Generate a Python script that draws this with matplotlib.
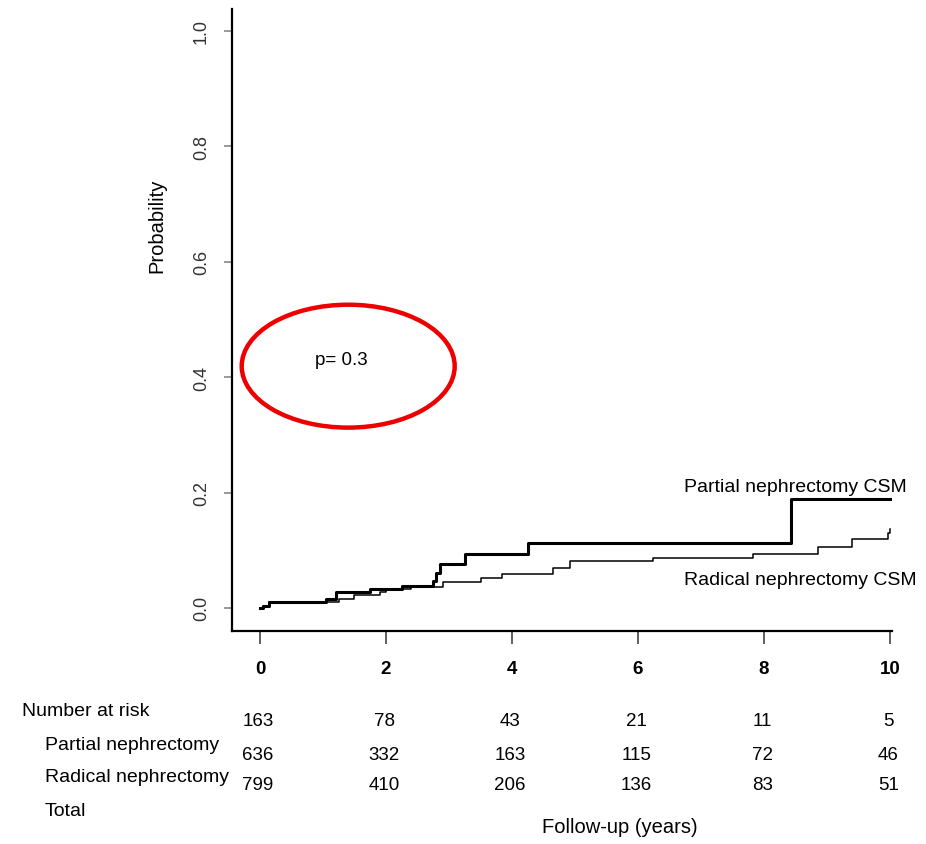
import matplotlib
matplotlib.use("Agg")
import matplotlib.pyplot as plt
from matplotlib.patches import Ellipse

plt.rcParams['font.family'] = ['Liberation Sans', 'DejaVu Sans']

# cumulative incidence of cancer-specific mortality
partial_t = [0, 0.05, 0.15, 1.05, 1.2, 1.75, 2.25, 2.75, 2.8, 2.85, 3.25, 4.25, 8.42, 10.0]
partial_p = [0, 0.004, 0.010, 0.016, 0.028, 0.033, 0.038, 0.047, 0.060, 0.076, 0.094, 0.113, 0.188, 0.188]

radical_t = [0, 0.05, 0.15, 1.25, 1.5, 1.9, 2.0, 2.4, 2.9, 3.5, 3.84, 4.65, 4.92,
             6.24, 7.83, 8.86, 9.4, 9.97, 10.0]
radical_p = [0, 0.004, 0.010, 0.016, 0.022, 0.027, 0.032, 0.037, 0.045, 0.051, 0.059, 0.069, 0.081,
             0.087, 0.094, 0.106, 0.120, 0.130, 0.136]

x_ticks = [0, 2, 4, 6, 8, 10]
y_ticks = [0.0, 0.2, 0.4, 0.6, 0.8, 1.0]

risk_labels = ["Number at risk", "Partial nephrectomy", "Radical nephrectomy", "Total"]
risk_rows = [
    [163, 78, 43, 21, 11, 5],
    [636, 332, 163, 115, 72, 46],
    [799, 410, 206, 136, 83, 51],
]

W, H = 926, 845
fig = plt.figure(figsize=(W / 100, H / 100), dpi=100)
ax = fig.add_axes([232 / W, 1 - 632 / H, (892 - 232) / W, (632 - 10) / H])

ax.step(partial_t, partial_p, where='post', color='black', lw=2.2)
ax.step(radical_t, radical_p, where='post', color='black', lw=1.1)

ax.set_xlim(-0.444, 10.03)
ax.set_ylim(-0.040, 1.038)

for s in ['top', 'right']:
    ax.spines[s].set_visible(False)
for s in ['left', 'bottom']:
    ax.spines[s].set_linewidth(1.6)

ax.set_xticks(x_ticks)
ax.set_xticklabels([str(v) for v in x_ticks], fontsize=13.5, fontweight='bold')
ax.set_yticks(y_ticks)
ax.set_yticklabels([f"{v:.1f}" for v in y_ticks], fontsize=13, rotation=90,
                   va='center', color='#333333')
ax.tick_params(axis='x', direction='out', length=9, width=1.2, pad=12, color='#444444')
ax.tick_params(axis='y', direction='out', length=6, width=1.2, pad=10, color='#888888')

# y label sits above the axis middle in the original
fig.text(157 / W, 1 - 226 / H, "Probability", fontsize=14.5, rotation=90,
         ha='center', va='center')

ax.text(6.73, 0.21, "Partial nephrectomy CSM", fontsize=14, ha='left', va='center')
ax.text(6.73, 0.05, "Radical nephrectomy CSM", fontsize=14, ha='left', va='center')

# p-value with red ellipse
ax.text(0.88, 0.43, "p= 0.3", fontsize=13.5, ha='left', va='center')
ax.add_patch(Ellipse((1.40, 0.419), width=3.38, height=0.213, fill=False,
                     edgecolor='#ee0000', lw=3.2, clip_on=False))

# number-at-risk table in figure pixel coordinates (x in data units)
label_pos = [(22, 712), (45, 746), (45, 778), (45, 812)]
for lab, (px, py) in zip(risk_labels, label_pos):
    fig.text(px / W, 1 - py / H, lab, fontsize=14, ha='left', va='center')

row_y = [722, 756, 786]
trans = matplotlib.transforms.blended_transform_factory(ax.transData, fig.transFigure)
for row, py in zip(risk_rows, row_y):
    for xv, n in zip(x_ticks, row):
        fig.text(xv - 0.03, 1 - py / H, str(n), fontsize=13.5, ha='center', va='center',
                 transform=trans)

fig.text(620 / W, 1 - 828 / H, "Follow-up (years)", fontsize=14.5, ha='center', va='center')

fig.savefig("out.png", dpi=100)
